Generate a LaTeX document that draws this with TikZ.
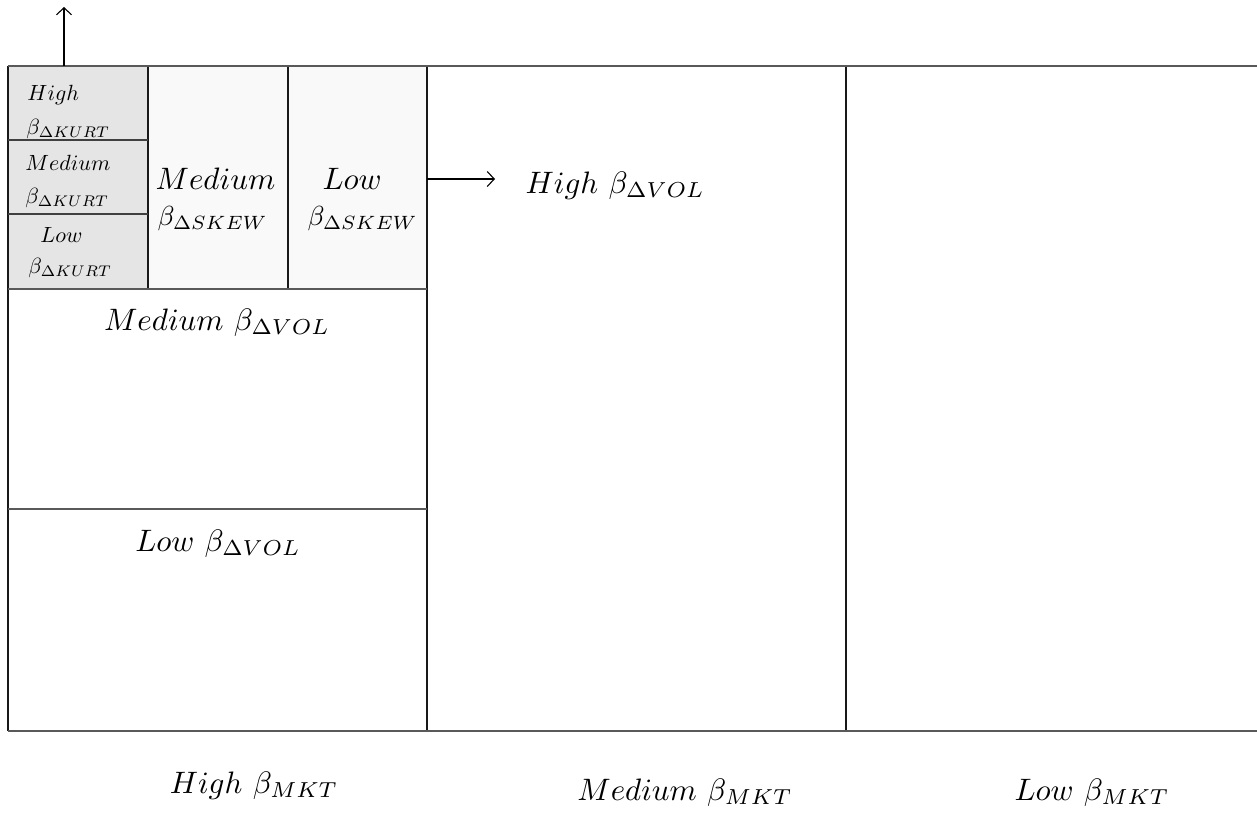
\documentclass[tikz,border=0pt]{standalone}
\usetikzlibrary{arrows.meta}
\begin{document}
\begin{tikzpicture}[x=1pt,y=-1pt,
  hline/.style={draw=black!65, line width=2pt},
  thinh/.style={draw=black!75, line width=1.4pt},
  vline/.style={draw=black!90, line width=1.2pt},
  big/.style={scale=3.1, inner sep=0pt},
  skewb/.style={scale=2.75, inner sep=0pt, anchor=base west},
  small/.style={scale=2.2, inner sep=0pt, anchor=base west},
  arr/.style={-{Straight Barb[length=7pt,width=15pt]}, line width=1.1pt}]
\useasboundingbox (0,0) rectangle (1257,812);
\fill[white] (0,0) rectangle (1257,812);
% fills
\fill[black!10] (8,66) rectangle (148,289);
\fill[black!2.5] (148,66) rectangle (427,289);
% vertical lines
\draw[vline] (8,66) -- (8,731);
\draw[vline] (427,66) -- (427,731);
\draw[vline] (846,66) -- (846,731);
\draw[vline] (148,66) -- (148,289);
\draw[vline] (288,66) -- (288,289);
% horizontal lines
\draw[hline] (8,66) -- (1257,66);
\draw[hline] (8,731) -- (1257,731);
\draw[hline] (8,289) -- (427,289);
\draw[hline] (8,509) -- (427,509);
% kurtosis labels
\node[small] (kh1) at (27,100) {$High$};
\node[small] (kh2) at (26,134) {$\beta_{\Delta KURT}$};
\node[small] (km1) at (25,170) {$Medium$};
\node[small] (km2) at (25,203) {$\beta_{\Delta KURT}$};
\node[small] (kl1) at (40,242) {$Low$};
\node[small] (kl2) at (28,273) {$\beta_{\Delta KURT}$};
\draw[thinh] (8,140) -- (148,140);
\draw[thinh] (8,214) -- (148,214);
% skew labels
\node[big, anchor=base west] (sm1) at (155,189) {$Medium$};
\node[skewb] (sm2) at (157,225) {$\beta_{\Delta SKEW}$};
\node[big, anchor=base west] (sl1) at (322,189) {$Low$};
\node[skewb] (sl2) at (307,225) {$\beta_{\Delta SKEW}$};
% vol labels
\node[big, anchor=base west] (hvol) at (525,193) {$High\ \beta_{\Delta VOL}$};
\node[big, anchor=base] (mvol) at (217,330) {$Medium\ \beta_{\Delta VOL}$};
\node[big, anchor=base] (lvol) at (218,551) {$Low\ \beta_{\Delta VOL}$};
% market labels
\node[big, anchor=base] (hmkt) at (254,793) {$High\ \beta_{MKT}$};
\node[big, anchor=base] (mmkt) at (685,800) {$Medium\ \beta_{MKT}$};
\node[big, anchor=base] (lmkt) at (1092,800) {$Low\ \beta_{MKT}$};
% arrows
\coordinate (upA) at (64,66);
\coordinate (upB) at (64,7);
\coordinate (rA) at (427,179);
\coordinate (rB) at (495,179);
\draw[arr] (upA) -- (upB);
\draw[arr] (rA) -- (rB);
\end{tikzpicture}
\end{document}
